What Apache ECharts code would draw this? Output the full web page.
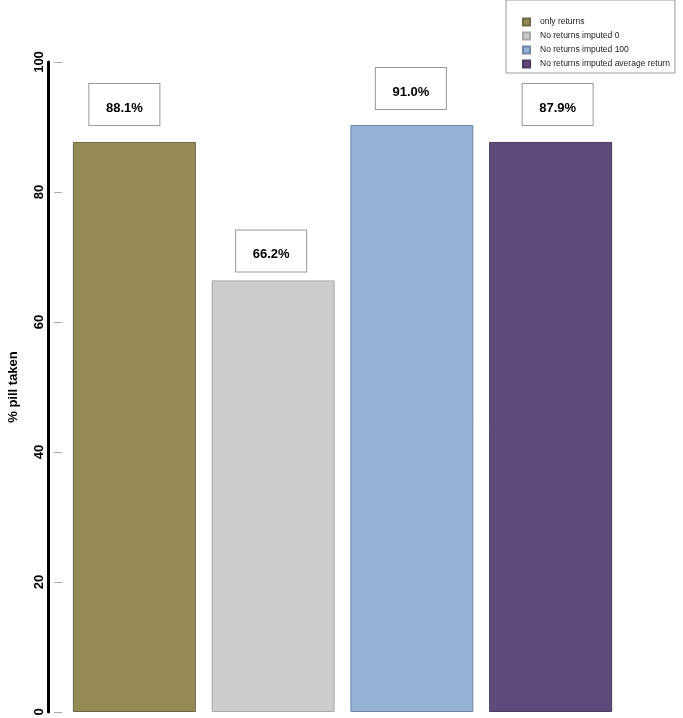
<!DOCTYPE html>
<html>
<head>
<meta charset="utf-8">
<script src="https://cdn.jsdelivr.net/npm/echarts@6/dist/echarts.min.js"></script>
<style>
  html, body { margin: 0; padding: 0; background: #fff; }
  #chart { width: 683px; height: 718px; }
</style>
</head>
<body>
<div id="chart"></div>
<script>
// series names (legend) and values
const seriesNames = ['only returns', 'No returns imputed 0', 'No returns imputed 100', 'No returns imputed average return'];
const categories = ['A', 'B', 'C', 'D'];
const barValues = [87.7, 66.4, 90.3, 87.7];
const labelTexts = ['88.1%', '66.2%', '91.0%', '87.9%'];
const yTicks = [0, 20, 40, 60, 80, 100];

const colors = ['#938a56', '#cccccc', '#95b3d7', '#604a7b'];
const borders = ['#6f6a45', '#a8a8a8', '#6f85a3', '#4a3a60'];
const labelDist = [17, 9, 16, 17];
const labelShift = [-10, -2, -1, 7];

const font = '"Liberation Sans", Arial, sans-serif';

const chart = echarts.init(document.getElementById('chart'));

const series = seriesNames.map((name, i) => ({
  name: name,
  type: 'bar',
  stack: 'all',
  barWidth: 123,
  itemStyle: { color: colors[i], borderColor: borders[i], borderWidth: 1 },
  label: {
    show: true,
    position: 'top',
    distance: labelDist[i],
    offset: [labelShift[i], 0],
    formatter: () => labelTexts[i],
    backgroundColor: '#fff',
    borderColor: '#999',
    borderWidth: 1,
    width: 70,
    height: 33,
    lineHeight: 33,
    padding: [8, 0, 0, 0],
    align: 'center',
    color: '#000',
    fontWeight: 'bold',
    fontSize: 13,
    fontFamily: font
  },
  emphasis: { disabled: true },
  data: categories.map((c, j) => (j === i ? barValues[i] : null))
}));

chart.setOption({
  animation: false,
  color: colors,
  grid: { left: 65, right: 63, top: 62, bottom: 6, containLabel: false, outerBoundsMode: 'none' },
  legend: {
    orient: 'vertical',
    left: 506,
    top: 0,
    padding: [16, 5, 3, 16],
    itemGap: 2,
    itemWidth: 7,
    itemHeight: 7,
    icon: 'rect',
    borderColor: '#999',
    borderWidth: 1,
    selectedMode: false,
    textStyle: { fontSize: 8.5, lineHeight: 12, color: '#222', fontFamily: font, padding: [0, 0, 0, 5] },
    data: seriesNames
  },
  xAxis: {
    type: 'category',
    data: categories,
    show: false
  },
  yAxis: [
    {
      type: 'value',
      min: 0,
      max: 100,
      interval: 20,
      offset: 17,
      position: 'left',
      name: '% pill taken',
      nameLocation: 'middle',
      nameGap: 28,
      nameTextStyle: { fontSize: 13, fontWeight: 'bold', color: '#000', fontFamily: font },
      axisLine: { show: true, lineStyle: { color: '#000', width: 3 } },
      axisTick: { show: false },
      axisLabel: {
        rotate: 89.9,
        align: 'center',
        verticalAlign: 'bottom',
        margin: 2,
        fontSize: 13,
        fontWeight: 'bold',
        color: '#000',
        fontFamily: font,
        formatter: (v) => (yTicks.includes(v) ? String(v) : '')
      },
      splitLine: { show: false }
    },
    {
      type: 'value',
      min: 0,
      max: 100,
      interval: 20,
      offset: 3,
      position: 'left',
      axisLine: { show: false },
      axisTick: { show: true, length: 8, lineStyle: { color: '#aaa' } },
      axisLabel: { show: false },
      splitLine: { show: false }
    }
  ],
  series: series
});
</script>
</body>
</html>
